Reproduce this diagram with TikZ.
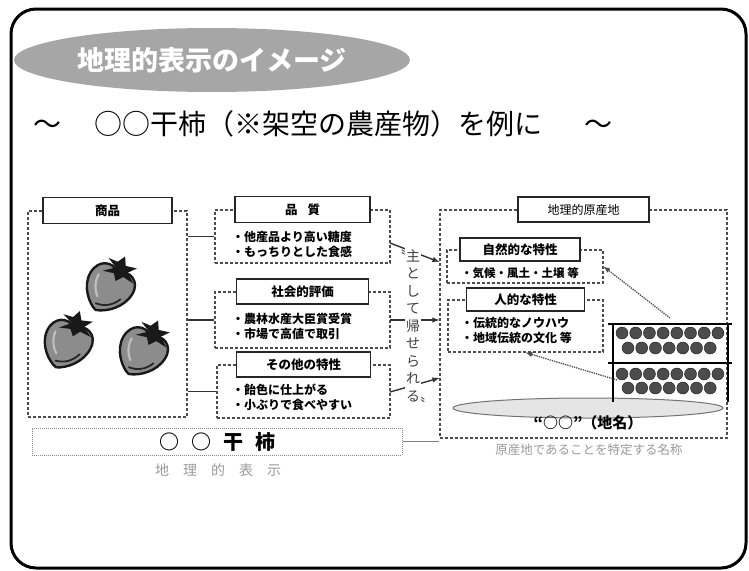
\documentclass[tikz,border=0pt]{standalone}
\usepackage{fontspec}
\setmainfont{Noto Sans CJK JP}
\usetikzlibrary{arrows}
\usetikzlibrary{positioning}
\usetikzlibrary{shapes.geometric}

\tikzset{
  grp/.style={draw=black!70, densely dashed, line width=1.1pt, inner sep=0pt},
  tag/.style={draw=black!85, line width=1.5pt, fill=white, inner sep=0pt,
    font=\fontsize{12.5}{14}\selectfont\bfseries},
  item/.style={align=left, inner sep=0pt, anchor=west,
    font=\fontsize{12}{15}\selectfont\bfseries},
  link/.style={line width=1.8pt, draw=black!80},
  hint/.style={densely dotted, line width=1.3pt, draw=black!70, -latex},
  grey/.style={text=black!40, inner sep=0pt},
  berry/.pic={
    % body
    \draw[fill=black!45, line width=2.4pt, draw=black!90]
      (-2,27) .. controls (-10,25) and (-25,12) .. (-24,-4)
      .. controls (-23,-19) and (-10,-24) .. (0,-17)
      .. controls (10,-24) and (24,-19) .. (23,-4)
      .. controls (22,12) and (8,24) .. (-2,27) -- cycle;
    \draw[black!85, line width=1.8pt, line cap=round]
      (15,6) .. controls (11,15) and (4,20) .. (-5,21);
    \draw[black!25, line width=2.2pt, line cap=round]
      (-16,-6) .. controls (-16,3) and (-12,10) .. (-7,14);
    % calyx
    \fill[black!90] (-4,-20) -- (-15,-25) -- (-5,-26) -- (-1,-34) -- (4,-26)
      -- (15,-29) -- (9,-21) -- (19,-14) -- (7,-15) -- (2,-8) -- (-3,-14)
      -- (-14,-11) -- cycle;
  },
}

\begin{document}
\begin{tikzpicture}[x=1pt, y=-1pt]
  \useasboundingbox (0,0) rectangle (749,570);
  \draw[line width=3pt, rounded corners=25pt] (11,9) rectangle (746,568);

  % heading
  \node[ellipse, fill=black!35, minimum width=396, minimum height=64,
    inner sep=0pt, text=white, font=\fontsize{27}{30}\selectfont\bfseries]
    (banner) at (212,60) {地理的表示のイメージ};
  \node[anchor=west, inner sep=0pt, font=\fontsize{28}{32}\selectfont]
    (subtitle) at (33,124) {～\hspace{1.2em}○○干柿（※架空の農産物）を例に\hspace{1.5em}～};

  % product
  \node[grp, minimum width=159, minimum height=206] (shohin) at (107.5,314) {};
  \node[tag, minimum width=129, minimum height=26] (shohintag) at (shohin.north) {商品};
  \pic[rotate=-28] at (110,287) {berry};
  \pic[rotate=-22] at (68,343) {berry};
  \pic[rotate=-28] at (143,351) {berry};

  % characteristics
  \node[grp, minimum width=175, minimum height=53] (hinshitsu) at (302.5,236.5) {};
  \node[tag, minimum width=135, minimum height=26] at (hinshitsu.north) {品\hspace{0.8em}質};
  \node[item] at (232,244.5) {・他産品より高い糖度\\・もっちりとした食感};

  \node[grp, minimum width=175, minimum height=56] (hyoka) at (302.5,320) {};
  \node[tag, minimum width=132, minimum height=25] at (hyoka.north) {社会的評価};
  \node[item] at (232,326) {・農林水産大臣賞受賞\\・市場で高値で取引};

  \node[grp, minimum width=173, minimum height=53] (sonota) at (303.5,391.5) {};
  \node[tag, minimum width=134, minimum height=25] at (sonota.north) {その他の特性};
  \node[item] at (232,397.5) {・飴色に仕上がる\\・小ぶりで食べやすい};

  \foreach \g in {hinshitsu, hyoka, sonota}
    \draw[link] (\g.west -| shohin.east) -- (\g.west);

  % origin
  \node[grp, minimum width=287, minimum height=228] (origin) at (583.5,324) {};
  \node[tag, minimum width=131, minimum height=25, font=\fontsize{12}{14}\selectfont]
    at (origin.north) {地理的原産地};

  \node[grp, minimum width=156, minimum height=33] (shizen) at (525,266.5) {};
  \node[tag, minimum width=120, minimum height=23] at ([xshift=-5pt]shizen.north) {自然的な特性};
  \node[item, font=\fontsize{11.5}{15}\selectfont\bfseries] at (461,273) {・気候・風土・土壌 等};

  \node[grp, minimum width=155, minimum height=52] (jinteki) at (525.5,326) {};
  \node[tag, minimum width=118, minimum height=23] at (jinteki.north) {人的な特性};
  \node[item] at (461,330.5) {・伝統的なノウハウ\\・地域伝統の文化 等};

  % drying rack on the field
  \draw[black!55, fill=black!10, line width=1pt] (588,408) ellipse [x radius=135, y radius=10];
  \foreach \i in {0,...,7} {
    \filldraw[fill=black!70, draw=black!90] ({622+\i*13.7},333) circle (6);
    \filldraw[fill=black!70, draw=black!90] ({622+\i*13.7},374) circle (6);
  }
  \foreach \i in {0,...,6} {
    \filldraw[fill=black!70, draw=black!90] ({628+\i*13.7},348) circle (6);
    \filldraw[fill=black!70, draw=black!90] ({628+\i*13.7},388) circle (6);
  }
  \draw[line width=2.2pt] (608,324) -- (732,324) (608,363) -- (732,363)
    (613,324) -- (613,402) (728,324) -- (728,402);
  \coordinate (racktop) at (670,318);
  \coordinate (rackside) at (617,380);
  \draw[hint] (racktop) -- (shizen.east);
  \draw[hint] (rackside) -- (jinteki.south);

  \node[inner sep=0pt, font=\fontsize{15}{18}\selectfont\bfseries] (chimei) at (588,423) {“○○”（地名）};
  \node[grey, font=\fontsize{12.5}{14}\selectfont] at (589,450) {原産地であることを特定する名称};

  % links into the origin
  \draw[link, line width=1.4pt, -latex] (390,243) -- (origin.west |- 0,262);
  \draw[link, line width=1.4pt, -latex] (390,320) -- (origin.west |- 0,320);
  \draw[link, line width=1.4pt, -latex] (390,392) -- (origin.west |- 0,378);
  \node[fill=white, inner sep=1pt, align=center, text=black!75, font=\fontsize{14}{17.5}\selectfont]
    (kizoku) at (413,326) {\llap{〝}主\\と\\し\\て\\帰\\せ\\ら\\れ\\る\rlap{〟}};

  % name
  \node[draw=black!45, densely dotted, line width=1pt, minimum width=370, minimum height=27,
    inner sep=0pt, font=\fontsize{20}{22}\selectfont\bfseries]
    (meisho) at (217,441.5) {○\hspace{0.6em}○\hspace{0.6em}干\hspace{0.6em}柿};
  \draw[black!50, line width=1pt] (meisho.east) -- (meisho.east -| origin.west);
  \node[grey, font=\fontsize{14}{16}\selectfont] at (218,470) {地　理　的　表　示};
\end{tikzpicture}
\end{document}
